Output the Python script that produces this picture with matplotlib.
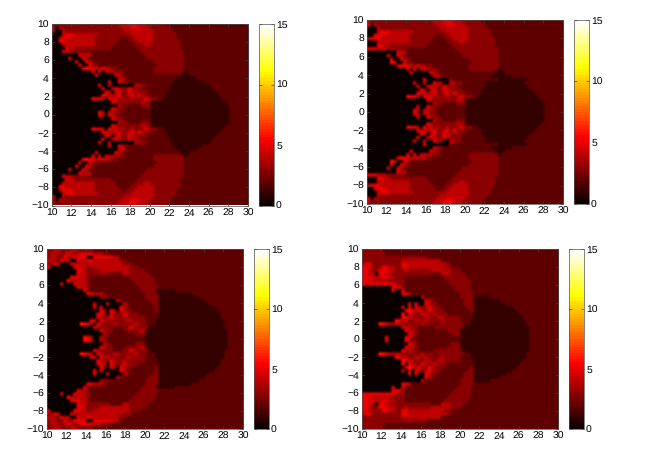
import numpy as np
import matplotlib
matplotlib.use('Agg')
import matplotlib.pyplot as plt

plt.rcParams['font.family'] = ['Liberation Sans', 'DejaVu Sans']
plt.rcParams['text.hinting'] = 'no_hinting'

# iteration counts, upper half of each panel (y=10 down to 0)
# every row is 60 cells wide for x=10..30, the rest of a short row is the background value 2
panel_a = [
"3"*20+"444555444"+"3"*6,
"404"+"3"*18+"444555444"+"3"*6,
"4004"+"3"*18+"444444444"+"3"*6,
"00045554444444"+"3"*10+"4"*7+"3"*7,
"004555"+"4"*7+"3"*8+"22"+"33"+"4"*6+"3"*7,
"0055"+"4"*9+"3"*7+"2222"+"33"+"44444"+"3"*8,
"000"+"4"*10+"3"*6+"2"*6+"333"+"44"+"3"*9,
"0000544"+"3"*11+"2"*8+"3"*13,
"0005"+"44"+"3"*6+"2"*15+"3"*13,
"0"*8+"5444"+"2"*16+"3"*12,
"0"*5+"5"+"00"+"0"+"54"+"2"*18+"3"*11,
"0"*7+"5"+"00"+"543"+"2"*18+"3"*9,
"0"*8+"5005"+"33"+"2"*18+"3"*8,
"0"*9+"5"+"6"+"55"+"44544"+"33"+"2"*11+"3"*9,
"0"*12+"50504443"+"33"+"2"*9+"3"*9+"1",
"0"*13+"5"+"0"*5+"543"+"2"*17+"111",
"0"*20+"443"+"2"*15+"1"*6,
"0"*17+"5"+"00"+"543"+"2"*14+"1"*9,
"0"*14+"500"+"4"+"0"*7+"4433"+"2"*7+"1"*12,
"0"*15+"5"+"00"+"45"+"4"+"33"+"54"+"33"+"3"+"2"*8+"1"*13,
"0"*16+"54"+"0"+"45"+"33"+"544"+"33"+"3"+"2"*6+"1"*15,
"0"*15+"554445"+"3"+"3"+"45"+"3"+"54"+"33"+"2"*5+"1"*16,
"0"*12+"6554"+"0"+"545"+"3"+"4"+"3"+"3"+"4"+"33"+"3"+"54"+"33"+"22"+"1"*18,
"0"*18+"54"+"3"+"333"+"3"+"33"+"44"+"3"+"1"*23,
"0"*20+"4"+"3"+"3"+"2222"+"33"+"3"+"1"*24,
"0"*18+"54"+"33"+"2"*8+"1"*24,
"0"*14+"54"+"0"+"44"+"3"+"3"+"2"*9+"1"*24,
]
panel_b = [
"4"+"3"*19+"444555444"+"3"*6,
"504"+"3"*18+"444555444"+"3"*6,
"0004"+"3"*18+"444444444"+"3"*6,
"00045554444444"+"3"*10+"4"*7+"3"*7,
"005555"+"4"*7+"3"*8+"22"+"33"+"4"*6+"3"*7,
"4555"+"4"*9+"3"*7+"2222"+"33"+"44444"+"3"*8,
"000"+"4"*10+"3"*6+"2"*6+"333"+"44"+"3"*9,
"0005544"+"3"*11+"2"*8+"3"*13,
"5554"+"44"+"3"*6+"2"*15+"3"*13,
"0"*9+"544"+"2"*16+"3"*12,
"0"*6+"5"+"00"+"54"+"2"*18+"3"*11,
"0"*7+"5"+"00"+"543"+"2"*18+"3"*9,
"0"*7+"65005"+"33"+"2"*18+"3"*8,
"0"*9+"5"+"6"+"55"+"44544"+"33"+"2"*11+"3"*9,
"0"*12+"50504443"+"33"+"2"*9+"3"*9+"1",
"0"*13+"5"+"0"*5+"543"+"2"*17+"111",
"0"*20+"443"+"2"*15+"1"*6,
"0"*17+"5"+"0"*7+"3"+"2"*14+"1"*9,
"0"*14+"500"+"4"+"00"+"544"+"00"+"4433"+"2"*7+"1"*12,
"0"*15+"5"+"00"+"45"+"4"+"33"+"54"+"33"+"3"+"2"*8+"1"*13,
"0"*16+"54"+"0"+"45"+"33"+"544"+"33"+"3"+"2"*6+"1"*15,
"0"*15+"554445"+"3"+"3"+"45"+"3"+"54"+"33"+"2"*5+"1"*16,
"0"*12+"6554"+"0"+"545"+"3"+"4"+"3"+"3"+"4"+"33"+"3"+"54"+"33"+"22"+"1"*18,
"0"*18+"54"+"3"+"333"+"3"+"33"+"44"+"3"+"1"*23,
"0"*20+"4"+"3"+"3"+"2222"+"33"+"3"+"1"*24,
"0"*15+"5"+"00"+"54"+"33"+"2"*8+"1"*24,
"0"*14+"54"+"0"+"44"+"3"+"3"+"2"*9+"1"*24,
]
panel_c = [
"33443334433333",
"344334543"+"4"+"5555"+"444"+"33",
"344335435"+"555"+"00"+"5"+"55555"+"44",
"4433544"+"00"+"5"+"4455"+"4"*8+"33",
"3454000"+"54"+"4444"+"4"*10+"333",
"50000000"+"55"+"44"+"33"+"4"*11+"333",
"0"*9+"5"+"54"+"3333"+"4444"+"44"+"444"+"33333",
"0"*9+"5"+"44"+"3"*7+"2222"+"44"+"3"*6,
"0"*7+"5"+"55"+"44"+"3"+"2"*12+"3"*7,
"0"*6+"6"+"44444"+"3"+"2"*13+"3"*7,
"0"*4+"5"+"000"+"5"+"4"+"44"+"3"+"2"*14+"3"*6,
"0"*9+"5"+"44"+"3"+"2"*15+"3"*6,
"0"*11+"5"+"3"+"2"*16+"3"*4+"1"*6,
"0"*12+"554443"+"2"*12+"3"*4+"1"*10,
"0"*16+"333"+"2"*11+"3"*4+"1"*12,
"0"*21+"43"+"2"*8+"3"*3+"1"*14,
"0"*14+"5"+"000"+"5"+"0000"+"43"+"2"*7+"33"+"1"*15,
"0"*14+"5"+"0"+"5"+"0"*5+"54"+"3"+"2"*8+"3"+"1"*17,
"0"*16+"54"+"0"+"54"+"0"+"54"+"3"+"3"+"2"*7+"3"+"1"*18,
"0"*15+"554"+"0"+"54"+"33"+"54"+"3"+"33"+"2"*6+"1"*19,
"0"*15+"54"+"33"+"54"+"33"+"4"+"33"+"3"+"3"+"3"+"3"+"2"*4+"1"*19,
"0"*13+"55"+"0"+"5443"+"3"+"33"+"3"+"44"+"33"+"33"+"2"*3+"1"*21,
"0"*10+"7654"+"0"+"54"+"33"+"3"+"44"+"3"+"3"+"33"+"44"+"33"+"2"*3+"1"*21,
"0"*14+"54"+"3"+"33"+"3"+"222"+"33"+"54"+"333"+"3"+"1"*23,
"0"*16+"54"+"3"+"3"+"2"*4+"33"+"33"+"44"+"1"*25,
"0"*17+"4"+"3"+"2"*8+"33"+"3"+"1"*25,
"0"*11+"654"+"00"+"4"+"3"+"2"*12+"1"*25,
]
panel_d = [
"3"*6,
"3"*7,
"3"*20,
"3"*12+"4"*12,
"455"+"3"*9+"55"+"44"+"4"*10+"3",
"554333"+"5544"+"33"+"55"+"4"+"4"*10+"333",
"5543"+"35"+"5544"+"333"+"4"+"3"*7+"4"*6+"333",
"55"+"44"+"0"+"5544"+"333"+"3"*9+"222"+"444"+"3"*4,
"5554"+"4455"+"443"+"3"+"3"+"2"*12+"3"*7,
"55544444"+"333"+"33"+"2"*13+"3"*7,
"5"*9+"54"+"33"+"2"*14+"3"*6,
"0"*9+"55"+"5"+"3"+"2"*15+"3"*5,
"0"*9+"5"+"00"+"5"+"2"*16+"3"*4,
"0"*12+"554"+"2"*15+"3"*4,
"0"*18+"4"+"2"*11+"3"*4+"1"*5,
"0"*19+"54"+"3"+"2"*9+"3"*3+"1"*8,
"0"*14+"5"+"0"+"5"+"00"+"54"+"3"+"3"+"2"*8+"3"*3+"1"*10,
"0"*12+"50"+"5"+"0"+"54"+"3"+"4"+"54"+"3"+"3"+"2"*8+"33"+"1"*12,
"0"*13+"56"+"54"+"5"+"33"+"54"+"33"+"3"+"2"*8+"3"+"1"*13,
"0"*12+"6"+"0"+"54"+"33"+"54"+"3"+"44"+"3"+"33"+"2"*8+"1"*14,
"0"*12+"654"+"4"+"33"+"3"+"44"+"3"+"3"+"44"+"3"+"33"+"33"+"2"*4+"1"*15,
"0"*10+"6544"+"33"+"44"+"3"+"4"+"33"+"33"+"4"+"33"+"33"+"3"+"2"*3+"1"*17,
"0"*5+"765444"+"4"+"3"+"33"+"3"+"33"+"4"+"3"+"33"+"2"+"33"+"33"+"3"+"33"+"3"+"22"+"1"*17,
"0"*12+"544"+"33"+"2"*5+"33"+"33"+"3"+"33"+"3"+"2"+"1"*20,
"0"*13+"544"+"3"+"2"*9+"33"+"33"+"1"*21,
"0"*13+"054"+"3"+"2"*10+"3"+"33"+"1"*21,
"0"*7+"5"+"0"*5+"54"+"3"+"2"*14+"1"*21,
]

xticks = [10, 12, 14, 16, 18, 20, 22, 24, 26, 28, 30]
yticks = [-10, -8, -6, -4, -2, 0, 2, 4, 6, 8, 10]
cticks = [0, 5, 10, 15]

W, H = 649.0, 453.0


def to_grid(rows):
    upper = np.array([[int(ch) for ch in r.ljust(60, '2')[:60]] for r in rows])
    return np.vstack([upper, upper[::-1]])


def draw(grid, left, right, top, bottom, cleft, cright):
    ax = fig.add_axes([left/W, 1-bottom/H, (right-left)/W, (bottom-top)/H])
    im = ax.imshow(grid, extent=[10, 30, -10, 10], cmap=cmap, vmin=0, vmax=15,
                   interpolation='bilinear', aspect='auto')
    ax.set_xticks(xticks)
    ax.set_yticks(yticks)
    ax.tick_params(direction='in', length=2, width=0.5, labelsize=7.5, pad=2,
                   top=True, right=True, color='#404040')
    for s in ax.spines.values():
        s.set_linewidth(0.5)
        s.set_color('#505050')
    cax = fig.add_axes([cleft/W, 1-bottom/H, (cright-cleft)/W, (bottom-top)/H])
    cb = fig.colorbar(im, cax=cax, ticks=cticks)
    cb.ax.tick_params(direction='in', length=2, width=0.5, labelsize=7.5, pad=1.5,
                      color='#404040', left=True)
    cb.outline.set_linewidth(0.5)
    cb.outline.set_edgecolor('#505050')


cmap = plt.get_cmap('hot', 64)
fig = plt.figure(figsize=(6.49, 4.53), dpi=100)
draw(to_grid(panel_a), 51.7, 248, 24, 205.5, 259, 274)
draw(to_grid(panel_b), 366.7, 563, 20, 204, 574, 589)
draw(to_grid(panel_c), 46.7, 243, 249, 429, 254, 269)
draw(to_grid(panel_d), 361.7, 558, 249, 429, 569, 584)
fig.savefig('out.png', dpi=100)
